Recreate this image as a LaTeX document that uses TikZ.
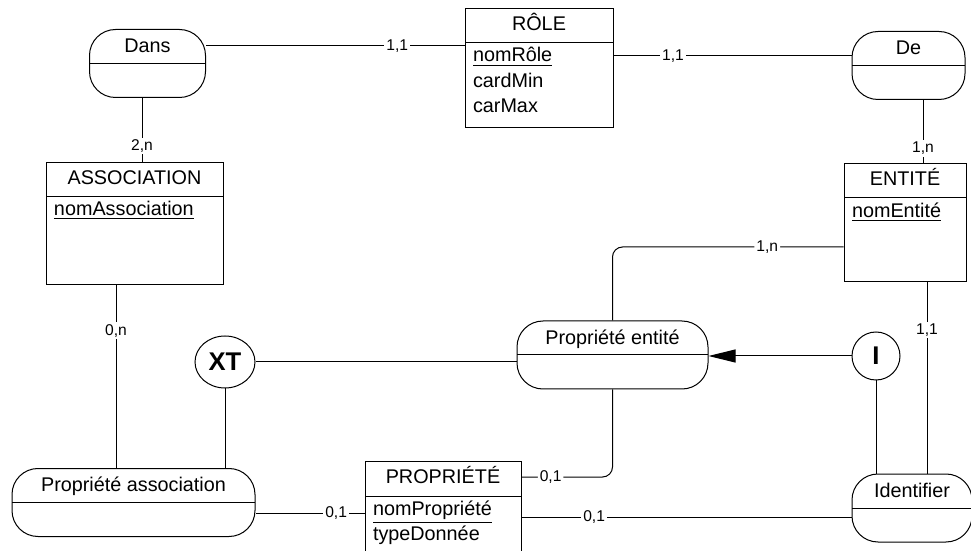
\documentclass[tikz,border=0pt]{standalone}
\usepackage{fontspec}
\setmainfont{Liberation Sans}
\usetikzlibrary{shapes.geometric,shapes.multipart,positioning,arrows.meta}

\begin{document}
\begin{tikzpicture}[
  x=0.5pt, y=-0.5pt, line width=0.5pt,
  every node/.style={font=\fontsize{9.9}{12.75}\selectfont},
  entity/.style={draw, fill=white, rectangle split, rectangle split parts=2, rectangle split part align={center,left}, align=left, inner xsep=4pt, inner ysep=2pt, anchor=north},
  relation/.style={draw, fill=white, rounded corners=13pt, text height=11.5pt, text depth=22.5pt, inner ysep=0pt,
    path picture={\draw (path picture bounding box.west) -- (path picture bounding box.east);}},
  constraint/.style={draw, fill=white, ellipse, inner sep=0pt, font=\fontsize{12.8}{14}\selectfont\bfseries},
  card/.style={fill=white, inner sep=1pt, font=\fontsize{7.8}{9}\selectfont},
]
  \useasboundingbox (0,0) rectangle (971,551);

  % Entites
  \node[entity, minimum width=74pt] (role) at (539,8)
    {\strut RÔLE \nodepart{two} \underline{nomRôle}\\cardMin\\carMax\rule[-5pt]{0pt}{0pt}};
  \node[entity, minimum width=88.5pt] (assoc) at (134.5,162)
    {\strut ASSOCIATION \nodepart{two} \underline{nomAssociation}\rule[-32pt]{0pt}{0pt}};
  \node[entity, minimum width=61pt] (entite) at (905,163)
    {\strut ENTITÉ \nodepart{two} \underline{nomEntité}\rule[-30pt]{0pt}{0pt}};
  \node[entity, minimum width=78pt] (prop) at (443,461)
    {\strut PROPRIÉTÉ \nodepart{two} \underline{nomPropriété}\\typeDonnée\rule[-15pt]{0pt}{0pt}};

  % Associations
  \node[relation, minimum width=58pt] (dans) at (147.5,63.5) {Dans};
  \node[relation, minimum width=56.5pt] (de) at (908.5,65.5) {De};
  \node[relation, minimum width=95.5pt] (pe) at (612.5,355) {Propriété entité};
  \node[relation, minimum width=121.5pt] (pa) at (133.5,502.5) {Propriété association};
  \node[relation, minimum width=60pt] (idf) at (912,508) {Identifier};

  % Contraintes
  \node[constraint, minimum width=30pt, minimum height=26pt] (xt) at (225,362) {XT};
  \node[constraint, minimum size=24pt] (incl) at (876,356) {I};

  % Pattes
  \draw ([yshift=-19pt]role.north west) -- node[card, pos=0.26] {1,1} ([yshift=-19pt]role.north west -| dans.east);
  \draw ([yshift=-24pt]role.north east) -- node[card, pos=0.25] {1,1} ([yshift=-24pt]role.north east -| de.west);
  \draw ([xshift=7.25pt]de.south) -- node[card, pos=0.77] {1,n} ([xshift=7.25pt]de.south |- entite.north);
  \draw ([xshift=-2.75pt]dans.south) -- node[card, pos=0.75] {2,n} ([xshift=-2.75pt]dans.south |- assoc.north);
  \draw ([xshift=-9.25pt]assoc.south) -- node[card, pos=0.25] {0,n} ([xshift=-9.25pt]assoc.south |- pa.north);
  \draw[rounded corners=5pt] ([yshift=-42pt]entite.north west) -- node[card, pos=0.33] {1,n} ([yshift=-42pt]entite.north west -| pe.north) -- (pe.north);
  \draw[rounded corners=5pt] ([yshift=-8pt]prop.north east) -- node[card, pos=0.32] {0,1} ([yshift=-8pt]prop.north east -| pe.south) -- (pe.south);
  \draw ([yshift=-26pt]prop.north west) -- node[card, pos=0.26] {0,1} ([yshift=-26pt]prop.north west -| pa.east);
  \draw ([yshift=-28pt]prop.north east) -- node[card, pos=0.22] {0,1} ([yshift=-28pt]prop.north east -| idf.west);
  \draw ([xshift=11pt]entite.south) -- node[card, pos=0.25] {1,1} ([xshift=11pt]entite.south |- idf.north);

  % Contraintes entre associations
  \draw (xt.east) -- (xt.east -| pe.west);
  \draw (xt.south) -- (xt.south |- pa.north);
  \draw[-{Triangle[length=13.5pt, width=6.5pt]}] (incl.west) -- (incl.west -| pe.east);
  \draw (incl.south) -- (incl.south |- idf.north);
\end{tikzpicture}
\end{document}
